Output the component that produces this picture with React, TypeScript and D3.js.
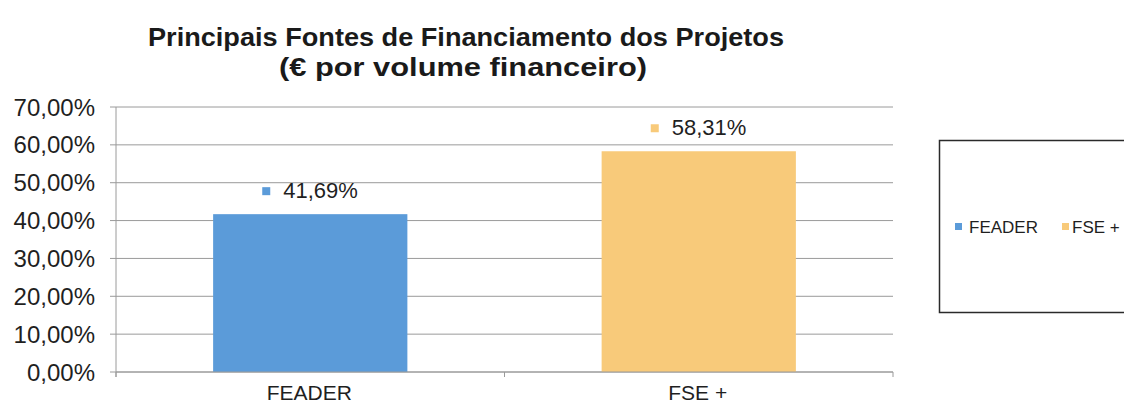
import * as d3 from 'd3';
import { useEffect, useRef } from 'react';

const categories = ['FEADER', 'FSE +'];
const values = [0.4169, 0.5831];
const valueLabels = ['41,69%', '58,31%'];
const yTicks = [0, 0.1, 0.2, 0.3, 0.4, 0.5, 0.6, 0.7];
const yTickLabels = ['0,00%', '10,00%', '20,00%', '30,00%', '40,00%', '50,00%', '60,00%', '70,00%'];
const colors = ['#5b9bd9', '#f8ca7a'];
const titleLines = ['Principais Fontes de Financiamento dos Projetos', '(€ por volume financeiro)'];

const W = 1124, H = 406;
const FONT = '"Liberation Sans", Arial, sans-serif';

const App = () => {
  const svgRef = useRef<SVGSVGElement | null>(null);

  useEffect(() => {
    const svg = d3.select(svgRef.current);
    svg.selectAll('*').remove();

    const left = 116, right = 893, top = 107, bottom = 372;

    const x = d3.scaleBand<string>().domain(categories).range([left, right]).padding(0);
    const y = d3.scaleLinear().domain([0, 0.7]).range([bottom, top]);

    // title
    svg.append('text').attr('x', 466).attr('y', 46)
      .attr('text-anchor', 'middle').attr('font-family', FONT).attr('font-weight', 'bold')
      .attr('font-size', 25).attr('fill', '#1a1a1a')
      .attr('textLength', 636).attr('lengthAdjust', 'spacingAndGlyphs')
      .text(titleLines[0]);
    svg.append('text').attr('x', 463).attr('y', 76)
      .attr('text-anchor', 'middle').attr('font-family', FONT).attr('font-weight', 'bold')
      .attr('font-size', 25).attr('fill', '#1a1a1a')
      .attr('textLength', 368).attr('lengthAdjust', 'spacingAndGlyphs')
      .text(titleLines[1]);

    // gridlines
    svg.append('g').selectAll('line').data(yTicks).join('line')
      .attr('x1', left).attr('x2', right)
      .attr('y1', d => y(d)).attr('y2', d => y(d))
      .attr('stroke', '#9a9a9a').attr('stroke-width', 1);

    // y axis
    const ya = svg.append('g');
    ya.append('line').attr('x1', left).attr('x2', left).attr('y1', top).attr('y2', bottom + 5)
      .attr('stroke', '#9a9a9a');
    ya.selectAll('line.t').data(yTicks).join('line').attr('class', 't')
      .attr('x1', left - 6).attr('x2', left).attr('y1', d => y(d)).attr('y2', d => y(d))
      .attr('stroke', '#9a9a9a');
    ya.selectAll('text').data(yTicks).join('text')
      .attr('x', 95).attr('y', d => y(d)).attr('dy', '0.36em')
      .attr('text-anchor', 'end').attr('font-family', FONT).attr('font-size', 24)
      .attr('fill', '#1f1f1f')
      .text((d, i) => yTickLabels[i]);

    // bars
    const barW = x.bandwidth() * 0.5;
    svg.append('g').selectAll('rect').data(categories).join('rect')
      .attr('x', d => x(d)! + (x.bandwidth() - barW) / 2)
      .attr('y', (d, i) => y(values[i]))
      .attr('width', barW)
      .attr('height', (d, i) => bottom - y(values[i]))
      .attr('fill', (d, i) => colors[i]);

    // x axis
    const xa = svg.append('g');
    xa.append('line').attr('x1', left).attr('x2', right).attr('y1', bottom).attr('y2', bottom)
      .attr('stroke', '#9a9a9a');
    const bounds = [left, ...categories.map(c => x(c)! + x.bandwidth())];
    xa.selectAll('line.t').data(bounds).join('line').attr('class', 't')
      .attr('x1', d => d).attr('x2', d => d).attr('y1', bottom).attr('y2', bottom + 5)
      .attr('stroke', '#9a9a9a');
    xa.selectAll('text').data(categories).join('text')
      .attr('x', d => x(d)! + x.bandwidth() / 2 - 1).attr('y', 400)
      .attr('text-anchor', 'middle').attr('font-family', FONT).attr('font-size', 21)
      .attr('fill', '#1f1f1f')
      .text(d => d);

    // data labels with key square
    const lab = svg.append('g').selectAll('g').data(categories).join('g')
      .attr('transform', (d, i) => `translate(${x(d)! + x.bandwidth() / 2},${y(values[i]) - 16})`);
    lab.append('rect').attr('x', -48).attr('y', -11).attr('width', 8).attr('height', 8)
      .attr('fill', (d, i) => colors[i]);
    lab.append('text').attr('x', -27).attr('y', 0)
      .attr('font-family', FONT).attr('font-size', 22).attr('fill', '#1f1f1f')
      .text((d, i) => valueLabels[i]);

    // legend
    const lg = svg.append('g');
    lg.append('rect').attr('x', 939.5).attr('y', 140.5).attr('width', 200).attr('height', 172)
      .attr('fill', 'none').attr('stroke', '#2a2a2a').attr('stroke-width', 1.5);
    const items = [{ x: 955, tx: 969 }, { x: 1062, tx: 1072 }];
    categories.forEach((c, i) => {
      lg.append('rect').attr('x', items[i].x).attr('y', 223).attr('width', 7).attr('height', 7)
        .attr('fill', colors[i]);
      lg.append('text').attr('x', items[i].tx).attr('y', 233)
        .attr('font-family', FONT).attr('font-size', 17).attr('fill', '#1f1f1f')
        .text(c);
    });
  }, []);

  return (
    <svg ref={svgRef} width={W} height={H}
      style={{ position: 'absolute', left: 0, top: 0, background: '#fff' }} />
  );
};

export default App;
